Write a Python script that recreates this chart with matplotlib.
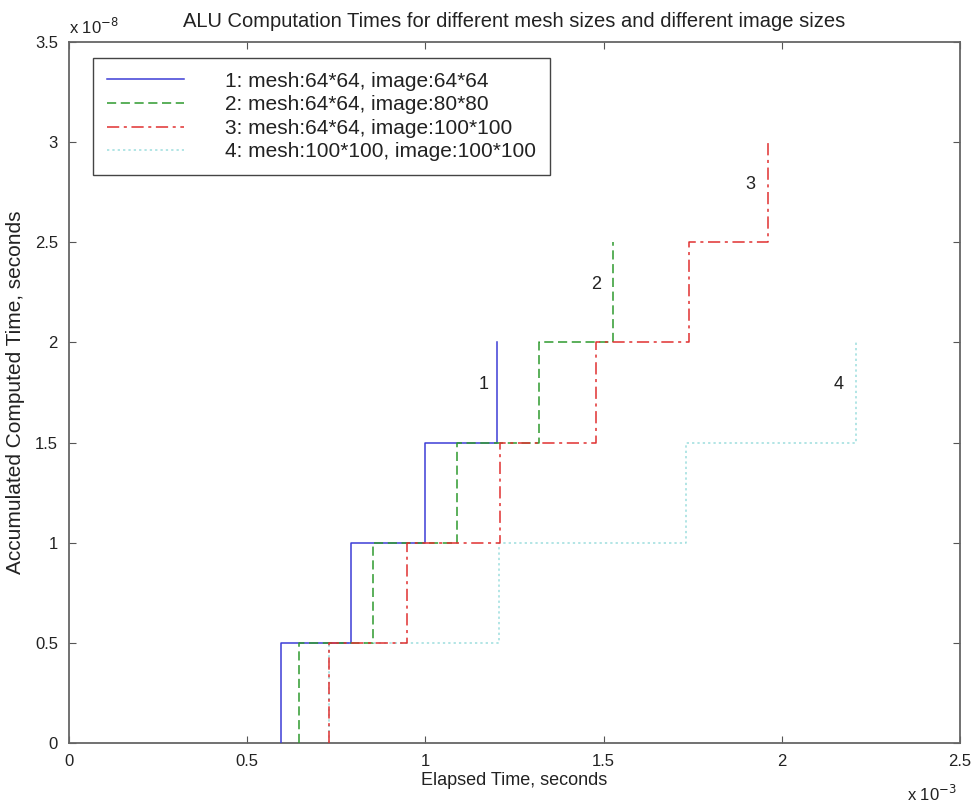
import matplotlib
matplotlib.use("Agg")
import matplotlib.pyplot as plt

plt.rcParams['font.family'] = ['Liberation Sans', 'DejaVu Sans']

# step times (x 1e-3 s) at which each run's accumulated time jumps by 0.5e-8 s
t_run1 = [0.595, 0.79, 1.0, 1.2]
t_run2 = [0.646, 0.853, 1.09, 1.32, 1.526]
t_run3 = [0.73, 0.948, 1.21, 1.478, 1.74, 1.96]
t_run4 = [0.73, 1.207, 1.731, 2.208]
step_size = 0.5  # x 1e-8 s

labels = ["1: mesh:64*64, image:64*64",
          "2: mesh:64*64, image:80*80",
          "3: mesh:64*64, image:100*100",
          "4: mesh:100*100, image:100*100"]
colors = ['#3d3dd6', '#2e9a2e', '#e03030', '#9ddede']
styles = ['-', (0, (6, 3)), (0, (8, 3, 2, 3)), (0, (1.5, 2))]
zorders = [3, 3, 3, 2]

# curve tags
tag_text = ['1', '2', '3', '4']
tag_x = [1.162, 1.479, 1.913, 2.16]
tag_y = [1.79, 2.29, 2.79, 1.79]

fig = plt.figure(figsize=(9.75, 8.07), dpi=100)
ax = fig.add_axes([0.0708, 0.0793, 0.9138, 0.8687])

for times, lab, c, ls, z in zip([t_run1, t_run2, t_run3, t_run4], labels, colors, styles, zorders):
    xs, ys = [], []
    level = 0
    for t in times:
        xs += [t, t]
        ys += [level, level + step_size]
        level += step_size
    ax.plot(xs, ys, color=c, linestyle=ls, linewidth=1.1, label=lab, zorder=z)

for s, x, y in zip(tag_text, tag_x, tag_y):
    ax.text(x, y, s, fontsize=13, ha='center', va='center', color='#222222')

ax.set_xlim(0, 2.5)
ax.set_ylim(0, 3.5)
ax.set_xticks([0, 0.5, 1, 1.5, 2, 2.5])
ax.set_xticklabels(['0', '0.5', '1', '1.5', '2', '2.5'])
ax.set_yticks([0, 0.5, 1, 1.5, 2, 2.5, 3, 3.5])
ax.set_yticklabels(['0', '0.5', '1', '1.5', '2', '2.5', '3', '3.5'])
ax.tick_params(direction='in', length=5, width=0.8, top=True, right=True,
               labelsize=12, pad=8, colors='#555555', labelcolor='#222222')
for sp in ax.spines.values():
    sp.set_color('#666666')
    sp.set_linewidth(1.3)

ax.set_xlabel("Elapsed Time, seconds", fontsize=13, labelpad=2, color='#222222')
ax.set_ylabel("Accumulated Computed Time, seconds", fontsize=15, labelpad=7, color='#222222')
ax.set_title("ALU Computation Times for different mesh sizes and different image sizes",
             fontsize=14.5, pad=11, color='#222222')

fig.text(0.071, 0.958, r"x 10$^{-8}$", fontsize=12, color='#222222')
fig.text(0.930, 0.007, r"x 10$^{-3}$", fontsize=12, color='#222222')

leg = ax.legend(loc='upper left', bbox_to_anchor=(0.027, 0.977), borderaxespad=0,
                fontsize=15, handlelength=3.7, handletextpad=2.0, labelspacing=0.22,
                fancybox=False, framealpha=1, edgecolor='#444444',
                borderpad=0.65)
leg.get_frame().set_linewidth(1.0)
for t in leg.get_texts():
    t.set_color('#222222')

fig.savefig("out.png", dpi=100)
